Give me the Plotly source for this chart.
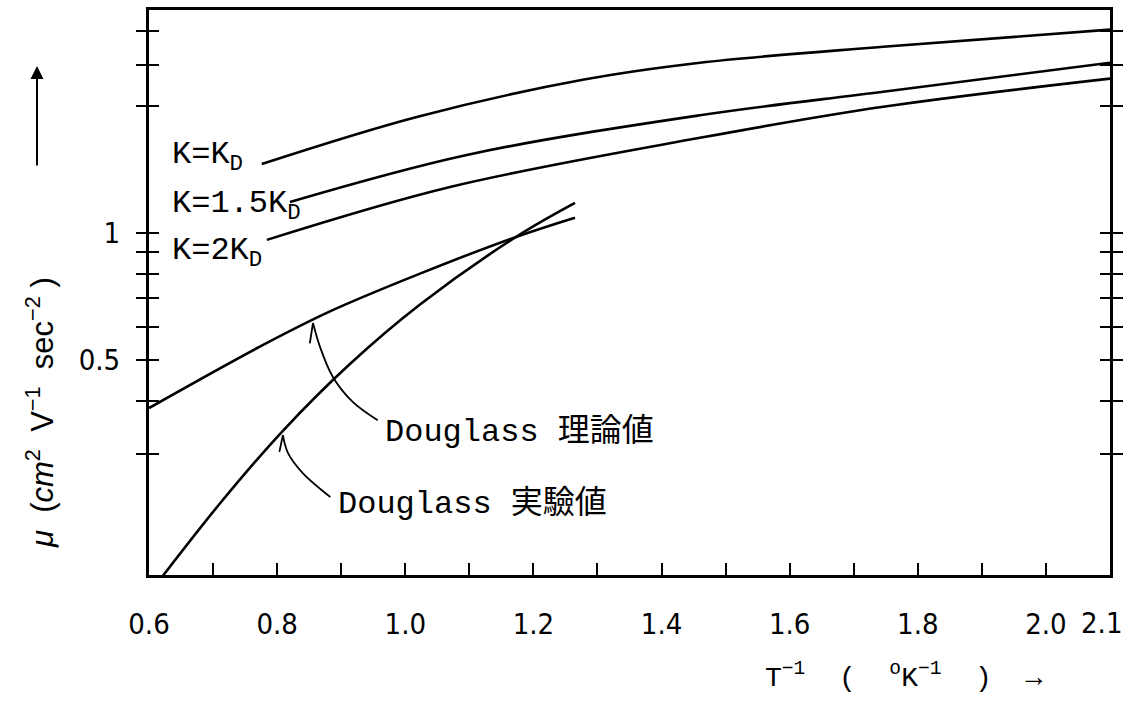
import plotly.graph_objects as go

# ---- data ----
inv_T_KD = [0.776, 1.018, 1.277, 1.46, 1.746, 2.1]
mu_KD = [1.457, 1.883, 2.305, 2.53, 2.76, 3.03]

inv_T_15KD = [0.820, 1.096, 1.46, 1.746, 2.1]
mu_15KD = [1.184, 1.53, 1.90, 2.16, 2.53]

inv_T_2KD = [0.784, 1.070, 1.46, 1.746, 2.1]
mu_2KD = [0.963, 1.285, 1.68, 1.99, 2.32]

inv_T_theory = [0.6, 0.773, 0.8825, 1.023, 1.174, 1.265]
mu_theory = [0.385, 0.538, 0.652, 0.801, 0.980, 1.087]

inv_T_exp = [0.620, 0.711, 0.809, 0.914, 1.023, 1.174, 1.265]
mu_exp = [0.153, 0.229, 0.340, 0.490, 0.677, 0.981, 1.178]

# curved pointer arrows (tip first, then body)
arrow_theory_x = [0.856, 0.867, 0.887, 0.918, 0.957]
arrow_theory_y = [0.612, 0.537, 0.456, 0.398, 0.360]
barb_theory_x = [0.851, 0.856]
barb_theory_y = [0.548, 0.612]

arrow_exp_x = [0.809, 0.817, 0.840, 0.883]
arrow_exp_y = [0.332, 0.301, 0.270, 0.237]
barb_exp_x = [0.8035, 0.809]
barb_exp_y = [0.303, 0.332]

x_tickvals = [0.6, 0.8, 1.0, 1.2, 1.4, 1.6, 1.8, 2.0]
x_ticktext = ["0.6", "0.8", "1.0", "1.2", "1.4", "1.6", "1.8", "2.0"]
x_last_label = "2.1"
x_minor = [0.7, 0.9, 1.1, 1.3, 1.5, 1.7, 1.9, 2.1]
y_tickvals = [0.5, 1]
y_ticktext = ["0.5", "1"]
y_minor = [0.3, 0.4, 0.6, 0.7, 0.8, 0.9, 2, 2.5, 3]

X_RANGE = [0.6, 2.1]
Y_RANGE = [-0.810, 0.528]  # log10

# ---- layout geometry ----
W, H = 1125, 712
ML, MR, MT, MB = 149, 15, 10, 137
PW, PH = W - ML - MR, H - MT - MB


def P(px, py):
    return (px - ML) / PW, (H - MB - py) / PH


LINE = dict(color="black", width=2.6)
THIN = dict(color="black", width=1.8)

fig = go.Figure()
fig.add_trace(go.Scatter(x=inv_T_KD, y=mu_KD, mode="lines", line=LINE, line_shape="spline", yaxis="y2"))
fig.add_trace(go.Scatter(x=inv_T_15KD, y=mu_15KD, mode="lines", line=LINE, line_shape="spline"))
fig.add_trace(go.Scatter(x=inv_T_2KD, y=mu_2KD, mode="lines", line=LINE, line_shape="spline"))
fig.add_trace(go.Scatter(x=inv_T_theory, y=mu_theory, mode="lines", line=LINE, line_shape="spline"))
fig.add_trace(go.Scatter(x=inv_T_exp, y=mu_exp, mode="lines", line=LINE, line_shape="spline"))
fig.add_trace(go.Scatter(x=arrow_theory_x, y=arrow_theory_y, mode="lines", line=THIN, line_shape="spline"))
fig.add_trace(go.Scatter(x=barb_theory_x, y=barb_theory_y, mode="lines", line=THIN))
fig.add_trace(go.Scatter(x=arrow_exp_x, y=arrow_exp_y, mode="lines", line=THIN, line_shape="spline"))
fig.add_trace(go.Scatter(x=barb_exp_x, y=barb_exp_y, mode="lines", line=THIN))

TICKFAMILY = "Liberation Sans Narrow, DejaVu Sans Condensed, Liberation Sans, sans-serif"
TICKFONT = dict(family=TICKFAMILY, size=29, color="black")

fig.update_layout(
    width=W, height=H,
    margin=dict(l=ML, r=MR, t=MT, b=MB, autoexpand=False),
    paper_bgcolor="white", plot_bgcolor="white",
    showlegend=False,
    hovermode=False,
    xaxis=dict(
        range=X_RANGE, showgrid=False, zeroline=False, automargin=False,
        showline=True, linecolor="black", linewidth=3, mirror=True,
        ticks="inside", ticklen=12, tickwidth=2, tickcolor="black",
        tickvals=x_tickvals, ticktext=x_ticktext,
        minor=dict(tickvals=x_minor, ticks="inside", ticklen=12, tickwidth=2,
                   tickcolor="black", showgrid=False),
        tickfont=TICKFONT, ticklabelstandoff=21,
    ),
    yaxis=dict(
        type="log", range=Y_RANGE, showgrid=False, zeroline=False, automargin=False,
        showline=True, linecolor="black", linewidth=3, mirror="ticks",
        ticks="outside", ticklen=10, tickwidth=2, tickcolor="black",
        tickvals=y_tickvals, ticktext=y_ticktext,
        minor=dict(tickvals=y_minor, ticks="outside", ticklen=10, tickwidth=2,
                   tickcolor="black", showgrid=False),
        tickfont=TICKFONT, ticklabelstandoff=10,
    ),
    yaxis2=dict(
        type="log", range=Y_RANGE, overlaying="y", side="left", anchor="x",
        showgrid=False, zeroline=False, showline=False, mirror="ticks", automargin=False,
        ticks="inside", ticklen=10, tickwidth=2, tickcolor="black",
        tickvals=y_tickvals, showticklabels=False,
        minor=dict(tickvals=y_minor, ticks="inside", ticklen=10, tickwidth=2,
                   tickcolor="black", showgrid=False),
    ),
)

MONO = "Liberation Mono, DejaVu Sans Mono, monospace"
anns = []


def text(px, py, s, size, family=MONO, xanchor="left", yanchor="middle", angle=0):
    x, y = P(px, py)
    anns.append(dict(xref="paper", yref="paper", x=x, y=y, text=s, showarrow=False,
                     xanchor=xanchor, yanchor=yanchor, textangle=angle,
                     font=dict(family=family, size=size, color="black")))


# last x tick label, kept inside the page edge
text(1124, 623, x_last_label, 29, family=TICKFAMILY, xanchor="right")

# curve labels
text(170, 156, "K=K<sub>D</sub>", 32)
text(170, 205, "K=1.5K<sub>D</sub>", 32)
text(170, 252, "K=2K<sub>D</sub>", 32)

# Douglass labels
CJK = "Liberation Mono, Noto Sans CJK JP, monospace"
text(383, 432, "Douglass 理論値", 32, family=CJK)
text(336, 504, "Douglass 実驗値", 32, family=CJK)

# x axis title
text(903, 676, "T<sup>−1</sup>  (  <sup>o</sup>K<sup>−1</sup>  )  →", 28, xanchor="center")

# y axis title (rotated)
text(40, 413, "<i>μ</i>  (<i>cm</i><sup>2</sup>  V<sup>−1</sup>  sec<sup>−2</sup> )", 31,
     family="Liberation Sans, Arial, sans-serif", xanchor="center", angle=-90)

# y axis arrow
ax_, ay_ = P(37, 66)
anns.append(dict(xref="paper", yref="paper", x=ax_, y=ay_, ax=0, ay=101,
                 showarrow=True, arrowhead=2, arrowsize=1.3, arrowwidth=2, arrowcolor="black", text=""))

fig.update_layout(annotations=anns)

fig.write_html("out.html", config={"displayModeBar": False},
               post_script="document.body.style.margin='0px';")
